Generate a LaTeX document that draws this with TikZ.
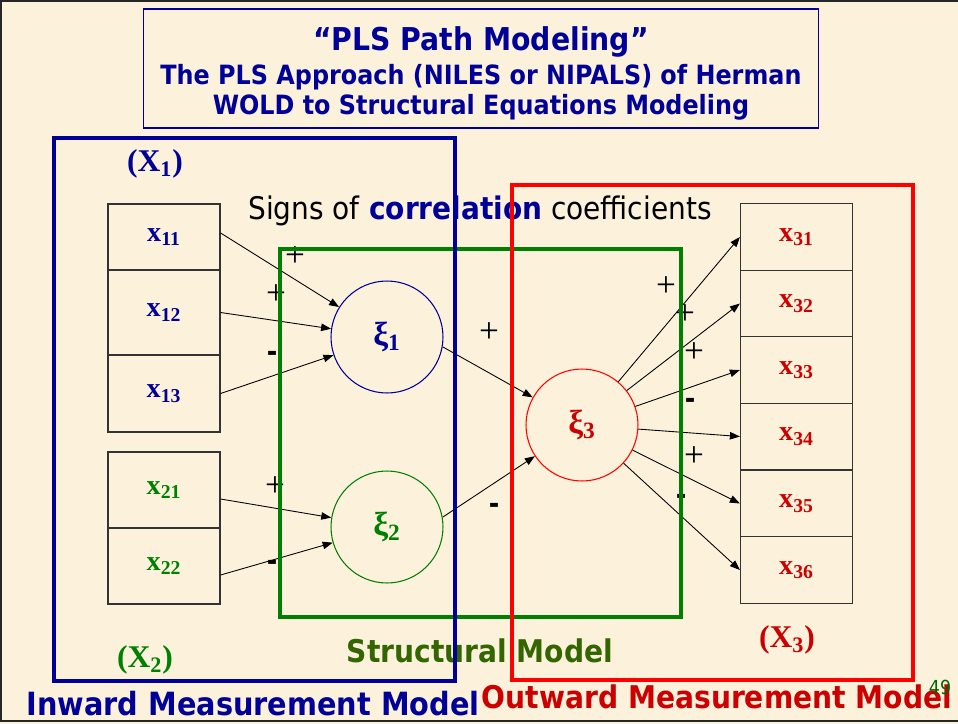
\documentclass[tikz,border=0pt]{standalone}
\usepackage{fontspec}
\setmainfont{Liberation Serif}
\newfontfamily\tahoma[FakeStretch=0.9]{DejaVu Sans}
\usepackage{xcolor}
\usetikzlibrary{arrows.meta, positioning}

\definecolor{kertas}{RGB}{252,242,220}
\definecolor{marine}{RGB}{0,0,153}
\definecolor{hijau}{RGB}{0,128,0}
\definecolor{hijautua}{RGB}{51,102,0}
\definecolor{merah}{RGB}{204,0,0}

\begin{document}
\begin{tikzpicture}[
    x=0.02cm, y=-0.02cm,
    font=\tahoma,
    kotak/.style={draw=black!80, line width=0.7pt, minimum width=2.24cm,
                  inner sep=0pt, font=\rmfamily\bfseries\fontsize{16}{18}\selectfont},
    laten/.style={circle, line width=0.6pt, minimum size=2.24cm, inner sep=0pt,
                  font=\rmfamily\bfseries\fontsize{19}{21}\selectfont},
    panah/.style={-{Triangle[length=2mm, width=1.5mm]}, line width=0.5pt},
    positif/.style={font=\rmfamily\fontsize{20}{20}\selectfont},
    negatif/.style={font=\tahoma\bfseries\fontsize{16}{16}\selectfont},
    blok/.style={font=\rmfamily\bfseries\fontsize{18}{20}\selectfont},
    judul/.style={anchor=base, text=marine, font=\tahoma\bfseries\fontsize{15.1}{17}\selectfont},
    model/.style={font=\tahoma\bfseries\fontsize{17.8}{20}\selectfont},
    bingkai/.style={line width=1.8pt}
  ]
    \fill[kertas] (0,0) rectangle (958,724);
    \useasboundingbox (0,0) rectangle (958,724);
    \draw[line width=1.2pt, black!85] (958,1) -- (1,1) -- (1,721) -- (958,721);

    % title
    \node[draw=marine, line width=0.6pt, minimum width=13.52cm, minimum height=2.38cm]
      (judulkotak) at (481,68.5) {};
    \node[judul, font=\tahoma\bfseries\fontsize{17.9}{20}\selectfont] (judul1) at (481,50)
      {“PLS Path Modeling”};
    \node[judul] (judul2) at (481,84) {The PLS Approach (NILES or NIPALS) of Herman};
    \node[judul] (judul3) at (481,114) {WOLD to Structural Equations Modeling};

    \node[font=\tahoma\fontsize{17.7}{20}\selectfont] (tanda) at (480,211)
      {Signs of \textbf{\color{marine}correlation} coefficients};

    % manifest variables
    \node[kotak, minimum height=1.32cm, text=marine] (x11) at (164,237) {x\textsubscript{11}};
    \node[kotak, minimum height=1.70cm, text=marine] (x12) at (164,312.5) {x\textsubscript{12}};
    \node[kotak, minimum height=1.54cm, text=marine] (x13) at (164,393.5) {x\textsubscript{13}};
    \node[kotak, minimum height=1.52cm, text=hijau] (x21) at (164,490) {x\textsubscript{21}};
    \node[kotak, minimum height=1.52cm, text=hijau] (x22) at (164,566) {x\textsubscript{22}};
    \node[kotak, minimum height=1.33cm, text=merah] (x31) at (796.5,237) {x\textsubscript{31}};
    \node[kotak, minimum height=1.33cm, text=merah] (x32) at (796.5,303.5) {x\textsubscript{32}};
    \node[kotak, minimum height=1.33cm, text=merah] (x33) at (796.5,370) {x\textsubscript{33}};
    \node[kotak, minimum height=1.33cm, text=merah] (x34) at (796.5,436.5) {x\textsubscript{34}};
    \node[kotak, minimum height=1.33cm, text=merah] (x35) at (796.5,503.5) {x\textsubscript{35}};
    \node[kotak, minimum height=1.33cm, text=merah] (x36) at (796.5,570) {x\textsubscript{36}};

    % latent variables
    \node[laten, draw=marine, text=marine] (xi1) at (387,337) {ξ\textsubscript{1}};
    \node[laten, draw=hijau, text=hijau] (xi2) at (387,527) {ξ\textsubscript{2}};
    \node[laten, draw=red, text=merah] (xi3) at (582,425) {ξ\textsubscript{3}};

    \draw[panah] ([yshift=0.08cm]x11.east) -- (xi1);
    \draw[panah] (x12.east) -- (xi1);
    \draw[panah] (x13.east) -- (xi1);
    \draw[panah] ([yshift=-0.18cm]x21.east) -- (xi2);
    \draw[panah] ([yshift=-0.18cm]x22.east) -- (xi2);
    \draw[panah] (xi1.-10) -- (xi3);
    \draw[panah] (xi2.10) -- (xi3);
    \draw[panah] (xi3) -- (x31.west);
    \draw[panah] (xi3) -- (x32.west);
    \draw[panah] (xi3) -- (x33.west);
    \draw[panah] (xi3) -- (x34.west);
    \draw[panah] (xi3) -- (x35.west);
    \draw[panah] (xi3) -- (x36.west);

    % signs
    \node[positif] (p1) at (295,257) {+};
    \node[positif] (p2) at (276,295) {+};
    \node[negatif] (n1) at (272,356) {-};
    \node[positif] (p3) at (275,487) {+};
    \node[negatif] (n2) at (272,565) {-};
    \node[positif] (p4) at (489,333) {+};
    \node[negatif] (n3) at (494,508) {-};
    \node[positif] (p5) at (666,287) {+};
    \node[positif] (p6) at (685,315) {+};
    \node[positif] (p7) at (694,353) {+};
    \node[negatif] (n4) at (690,403) {-};
    \node[positif] (p8) at (694,457) {+};
    \node[negatif] (n5) at (681,499) {-};

    \node[blok, text=marine] (blok1) at (155,164) {(X\textsubscript{1})};
    \node[blok, text=hijau] (blok2) at (145,660) {(X\textsubscript{2})};
    \node[blok, text=merah] (blok3) at (787,640) {(X\textsubscript{3})};

    \node[model, text=hijautua] (struktur) at (480,651) {Structural Model};
    \node[model, text=marine, font=\tahoma\bfseries\fontsize{18.2}{20}\selectfont]
      (dalam) at (253,704) {Inward Measurement Model};
    \node[model, text=merah] (luar) at (717,697) {Outward Measurement Model};
    \node[font=\tahoma\fontsize{11}{12}\selectfont, text=hijau!80!black] (hal) at (940,687) {49};

    % frames
    \draw[hijau, bingkai] (280,249) rectangle (681,617);
    \draw[marine, bingkai] (54,138) rectangle (455,681);
    \draw[red, bingkai] (512,185) rectangle (913,680);
\end{tikzpicture}
\end{document}
